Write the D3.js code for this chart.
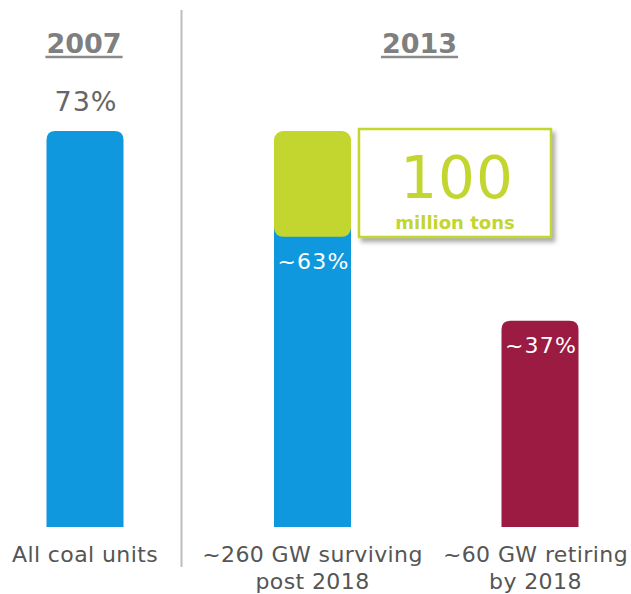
<!doctype html>
<html>
<head>
<meta charset="utf-8">
<script src="https://cdn.jsdelivr.net/npm/d3@7"></script>
<style>
  body { margin: 0; background: #fff; }
  svg text { font-family: "DejaVu Sans", Verdana, sans-serif; }
</style>
</head>
<body>
<svg id="chart"></svg>
<script>
  const width = 631, height = 594

  // data
  const categories = ["All coal units", "~260 GW surviving|post 2018", "~60 GW retiring|by 2018"]
  const totalValues = [73, 73, 38]        // bar heights (capacity factor scale)
  const survivingValues = [73, 53.5, 38]  // part below the green cap
  const barLabels = ["73%", "~63%", "~37%"]
  const barColors = ["#0f98dd", "#0f98dd", "#9b1b42"]
  const years = ["2007", "2013"]
  const calloutValue = "100"
  const calloutUnit = "million tons"

  const green = "#c2d62f"

  const svg = d3.select("#chart").attr("width", width).attr("height", height)

  const defs = svg.append("defs")
  defs.append("filter").attr("id", "shadow")
      .attr("x", "-10%").attr("y", "-10%").attr("width", "130%").attr("height", "140%")
    .append("feDropShadow")
      .attr("dx", 3).attr("dy", 4).attr("stdDeviation", 2)
      .attr("flood-color", "#888").attr("flood-opacity", 0.7)

  const x = d3.scalePoint().domain(categories).range([85, 540])
  const y = d3.scaleLinear().domain([0, 73]).range([527, 131])
  const barW = 77, r = 9

  // rounded-top bar path
  function topRounded(cx, y0, y1) {
    const x0 = cx - barW / 2, x1 = cx + barW / 2
    return `M${x0},${y1}V${y0 + r}Q${x0},${y0} ${x0 + r},${y0}H${x1 - r}Q${x1},${y0} ${x1},${y0 + r}V${y1}Z`
  }

  // divider
  svg.append("line")
    .attr("x1", 181.5).attr("x2", 181.5).attr("y1", 10).attr("y2", 567)
    .attr("stroke", "#bdbdbd").attr("stroke-width", 2)

  // year headers
  const yearX = [x(categories[0]) - 1, 419.5]
  years.forEach((yr, i) => {
    const t = svg.append("text")
      .attr("x", yearX[i]).attr("y", 53)
      .attr("text-anchor", "middle")
      .attr("font-size", 27).attr("font-weight", "bold")
      .attr("fill", "#7f7f7f")
      .text(yr)
    const w = t.node().getComputedTextLength()
    svg.append("line")
      .attr("x1", yearX[i] - w / 2 - 1).attr("x2", yearX[i] + w / 2 + 1)
      .attr("y1", 57).attr("y2", 57)
      .attr("stroke", "#8a8a8a").attr("stroke-width", 2.5)
  })

  // bars
  svg.selectAll(".bar")
    .data(categories)
    .enter().append("path")
      .attr("class", "bar")
      .attr("fill", (d, i) => barColors[i])
      .attr("d", (d, i) => i === 1
        ? `M${x(d) - barW / 2},${y(survivingValues[i]) - 10}H${x(d) + barW / 2}V${y(0)}H${x(d) - barW / 2}Z`
        : topRounded(x(d), y(totalValues[i]), y(0)))

  // green cap on the surviving bar
  svg.append("rect")
    .attr("x", x(categories[1]) - barW / 2)
    .attr("y", y(totalValues[1]))
    .attr("width", barW)
    .attr("height", y(survivingValues[1]) - y(totalValues[1]))
    .attr("rx", r).attr("ry", r)
    .attr("fill", green)

  // bar value labels
  svg.append("text")
    .attr("x", x(categories[0]) + 1).attr("y", y(totalValues[0]) - 20)
    .attr("text-anchor", "middle").attr("font-size", 27).attr("fill", "#666")
    .attr("letter-spacing", 1)
    .text(barLabels[0])

  ;[1, 2].forEach(i => {
    svg.append("text")
      .attr("x", x(categories[i]) + 1).attr("y", y(survivingValues[i]) + 32)
      .attr("text-anchor", "middle").attr("font-size", 22).attr("fill", "#fff")
      .attr("letter-spacing", 1.2)
      .text(barLabels[i])
  })

  // callout box
  const box = svg.append("g")
  box.append("rect")
    .attr("x", 359).attr("y", 129).attr("width", 192).attr("height", 108)
    .attr("fill", "#fff").attr("stroke", green).attr("stroke-width", 2.5)
    .attr("filter", "url(#shadow)")
  box.append("text")
    .attr("x", 457).attr("y", 198).attr("text-anchor", "middle")
    .attr("font-size", 58).attr("letter-spacing", 1).attr("fill", green)
    .text(calloutValue)
  box.append("text")
    .attr("x", 455).attr("y", 228.5).attr("text-anchor", "middle")
    .attr("font-size", 18).attr("font-weight", "bold").attr("fill", green)
    .text(calloutUnit)

  // category labels, kept inside the right edge
  categories.forEach(c => {
    const t = svg.append("text")
      .attr("y", 562)
      .attr("text-anchor", "middle").attr("font-size", 22).attr("fill", "#555")
      .attr("letter-spacing", 0.4)
    const spans = c.split("|").map((line, j) =>
      t.append("tspan").attr("dy", j ? 27 : 0).text(line))
    const w = d3.max(spans, s => s.node().getComputedTextLength())
    const cx = Math.min(x(c), width - 3 - w / 2)
    spans.forEach(s => s.attr("x", cx))
  })
</script>
</body>
</html>
